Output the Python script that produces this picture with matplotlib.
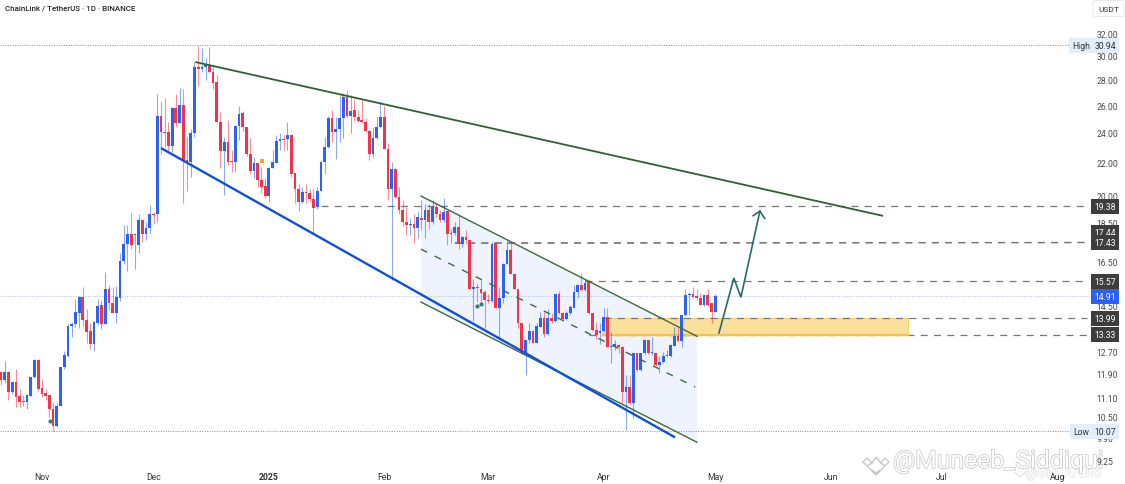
import matplotlib
matplotlib.use("Agg")
import matplotlib.pyplot as plt
import pandas as pd
from matplotlib.patches import Rectangle, Polygon
from matplotlib.ticker import NullLocator
import matplotlib.patheffects as pe

plt.rcParams['font.family'] = ['Roboto', 'DejaVu Sans']

start_date = "2024-10-21"
opens = [11.95,11.69,11.95,11.30,11.63,11.15,10.98,10.96,11.16,11.78,12.38,11.41,11.24,11.19,10.74,10.23,10.84,12.13,12.53,13.68,13.74,14.22,14.89,13.91,13.47,12.98,13.78,14.52,13.75,15.25,14.61,14.21,14.83,
 16.53,17.34,17.87,17.83,17.30,18.60,17.87,18.21,18.97,18.92,25.20,24.07,24.04,23.11,25.82,24.71,26.04,22.17,22.04,24.00,29.02,28.90,29.09,29.22,28.65,27.81,24.78,22.74,23.36,22.10,22.02,24.50,25.39,24.42,22.58,21.45,21.95,20.93,20.55,19.98,21.65,21.99,23.41,23.59,23.54,23.82,21.32,20.40,19.62,20.17,20.15,19.78,19.32,20.27,22.06,22.99,25.02,24.04,24.25,25.02,26.65,25.20,25.63,25.10,24.90,24.78,24.13,22.54,23.61,24.38,25.12,22.90,20.38,21.57,19.92,
 19.16,18.51,18.35,18.42,18.18,18.75,18.60,19.16,18.51,19.34,18.93,18.60,19.11,17.85,17.95,18.24,17.38,17.72,17.55,15.24,15.30,15.24,15.09,14.77,14.71,17.41,14.42,14.82,16.40,17.05,15.93,15.24,13.81,12.63,13.13,13.49,13.03,13.65,14.00,13.36,14.00,13.89,15.00,14.19,13.95,14.22,14.43,15.09,15.40,15.18,15.60,14.22,13.52,13.41,13.46,14.03,12.88,12.92,12.94,12.85,11.29,11.46,10.92,12.63,12.03,12.63,13.13,12.63,12.63,12.20,12.32,12.53,12.53,12.92,13.30,13.08,14.10,14.98,15.03,14.91,14.85,14.53,14.98,14.60,14.26]
highs = [12.01,12.34,11.98,11.63,12.07,11.37,11.18,11.21,11.80,12.41,12.44,11.72,11.37,11.19,10.92,10.94,12.15,12.70,13.75,13.85,14.80,14.92,15.33,14.35,13.78,13.87,14.78,14.75,15.98,15.41,15.30,15.37,16.90,
 18.34,18.34,19.02,17.85,18.97,18.64,18.52,19.43,19.06,26.86,26.35,26.52,24.73,25.88,26.83,27.31,27.26,23.72,24.25,29.45,30.89,30.68,29.80,30.77,29.22,28.38,25.51,23.68,24.90,22.82,24.50,25.97,25.56,24.42,23.66,22.34,21.95,21.73,21.01,21.73,22.82,23.84,24.01,23.84,24.73,23.82,21.32,20.65,20.50,20.65,20.35,20.37,20.48,22.17,23.72,25.21,25.63,25.10,26.73,26.91,27.18,26.78,26.44,25.63,26.39,25.02,24.18,24.42,25.10,26.32,25.97,23.27,22.06,21.63,20.50,
 19.73,19.34,18.70,18.97,19.09,19.73,19.53,19.53,19.73,19.57,19.16,19.83,19.15,18.15,18.51,18.97,17.76,18.07,17.55,15.70,15.48,15.70,15.18,15.03,17.47,17.47,15.33,16.43,17.58,17.47,15.93,15.24,13.81,13.13,13.81,13.49,13.81,14.23,14.23,14.35,14.20,15.03,15.15,14.26,14.30,14.53,15.40,15.45,15.96,15.70,15.67,14.22,13.85,13.78,14.39,14.39,13.45,13.13,12.98,12.90,11.85,11.85,12.63,12.65,12.65,13.15,13.13,13.26,12.63,12.53,12.69,12.75,12.98,13.62,13.65,14.10,15.25,15.10,15.30,15.25,15.06,15.03,15.21,14.60,15.03]
lows = [11.52,11.60,11.03,11.22,10.80,10.81,10.83,10.73,11.15,11.74,11.33,11.13,11.03,10.50,10.07,10.20,10.84,12.07,12.50,13.26,13.62,13.58,13.67,13.03,12.78,12.73,13.73,13.55,13.75,14.32,14.22,13.80,14.72,
 16.40,16.05,17.13,16.16,16.93,17.47,17.56,17.90,18.42,18.52,22.54,23.04,22.70,22.70,24.42,24.66,19.54,20.27,21.12,23.72,27.47,28.65,27.97,28.58,27.26,24.78,21.67,20.02,21.84,21.43,21.43,23.48,24.11,22.40,21.28,21.02,20.52,20.12,19.82,19.63,21.63,21.95,22.80,22.80,22.80,21.12,19.58,19.12,19.54,19.54,19.68,17.90,19.24,20.25,21.26,22.97,23.38,22.21,23.38,23.66,25.07,23.96,24.85,24.78,24.66,24.07,22.17,22.28,23.57,24.30,22.90,19.75,15.63,19.82,18.97,
 18.27,17.81,17.81,17.41,17.69,18.07,17.64,18.15,18.42,18.79,18.51,18.51,17.30,17.41,17.81,17.09,17.22,17.38,15.24,13.87,14.67,14.53,13.58,14.61,14.67,14.39,13.20,14.61,16.37,15.90,15.21,13.60,12.60,11.85,13.03,13.00,13.00,13.62,13.23,13.32,13.81,13.85,14.16,13.89,13.92,14.12,14.39,14.85,15.15,15.15,14.16,13.47,13.16,12.98,13.44,12.85,12.29,12.75,12.63,10.92,10.10,10.90,10.46,12.00,12.00,12.60,12.60,12.56,12.18,11.91,12.28,12.50,12.50,12.90,13.06,12.88,14.07,14.10,14.85,14.75,14.53,14.50,14.50,13.81,14.26]
closes = [11.69,11.95,11.30,11.63,11.11,10.97,10.96,11.18,11.80,12.38,11.40,11.22,11.15,10.74,10.23,10.84,12.15,12.55,13.68,13.75,14.23,14.89,13.91,13.44,12.98,13.84,14.49,13.75,15.25,14.61,14.22,14.89,16.53,
 17.36,17.87,17.30,17.85,18.60,17.87,18.21,18.95,18.87,25.20,24.04,24.00,23.11,25.82,24.71,26.04,22.17,22.04,24.01,29.09,28.90,29.09,29.22,28.65,27.76,24.78,22.74,23.36,22.06,22.02,24.50,25.34,24.42,22.58,21.45,21.95,20.93,20.52,19.98,21.65,22.02,23.41,23.57,23.52,23.82,21.28,20.38,19.62,20.17,20.13,19.78,19.28,20.27,22.06,22.99,25.07,24.04,24.25,25.02,26.65,25.20,25.56,25.10,24.85,24.78,24.13,22.54,23.66,24.38,25.10,22.90,20.38,21.57,19.92,19.16,
 18.51,18.33,18.42,18.18,18.79,18.60,19.16,18.51,19.34,18.93,18.60,19.06,17.85,17.95,18.24,17.38,17.72,17.55,15.24,15.30,15.26,15.06,14.75,14.71,17.38,14.42,14.82,16.40,17.05,15.93,15.24,13.81,12.63,13.13,13.49,13.03,13.67,14.00,13.36,14.00,13.89,15.00,14.19,13.95,14.22,14.46,15.09,15.40,15.18,15.51,14.19,13.52,13.34,13.46,14.03,12.88,12.92,12.94,12.85,11.29,11.46,10.92,12.63,12.03,12.63,13.13,12.63,12.66,12.20,12.32,12.53,12.56,12.94,13.30,13.08,14.10,14.98,15.03,14.88,14.82,14.53,14.98,14.53,14.26,14.91]

price_ticks = [32, 30, 28, 26, 24, 22, 20, 18.5, 16.5, 14.5, 13.5, 12.7, 11.9, 11.1, 10.5, 9.9, 9.25]
month_ticks = ["2024-11-01","2024-12-01","2025-01-01","2025-02-01","2025-03-01","2025-04-01","2025-05-01","2025-06-01","2025-07-01","2025-08-01"]
month_labels = ["Nov","Dec","2025","Feb","Mar","Apr","May","Jun","Jul","Aug"]

high_price, low_price, last_price = 30.94, 10.07, 14.91
level_badges = [(19.38, 19.38), (17.44, 17.95), (17.43, 17.43), (15.57, 15.57), (13.99, 13.99), (13.33, 13.33)]
level_lines = [(86, 19.38, 19.38), (122, 17.41, 17.43), (122, 17.40, 17.44), (157, 15.57, 15.57), (162, 13.99, 13.99), (158, 13.33, 13.33)]

upper_trend = ([52.2, 237.1], [29.48, 18.84])
lower_trend = ([43.0, 181.2], [22.95, 9.89])
channel_top = ([112.9, 187.1], [19.96, 13.27])
channel_mid = ([112.9, 186.6], [17.10, 11.45])
channel_bot = ([112.9, 187.1], [14.66, 9.75])
zone_x, zone_low, zone_high = (161.8, 243.8), 13.33, 13.99
path_x = [193.0, 197.0, 198.9, 204.0]
path_y = [13.40, 15.72, 14.87, 19.10]
head_x = [202.2, 204.0, 205.3]
head_y = [18.85, 19.10, 18.70]

BLUE, RED = "#2b63f2", "#f0344a"
W, H = 1125, 485
fig = plt.figure(figsize=(W/100, H/100), dpi=100, facecolor="white")
ax = fig.add_axes([0, 0, 1, 1])
ax.set_yscale("log")
ax.set_ylim(8.635, 35.41)
ax.set_xlim(-0.27, 302.15)
ax.set_axisbelow(False)
for s in ax.spines.values():
    s.set_visible(False)

def pct(px, py):
    return px/W, 1-py/H

t0 = pd.Timestamp(start_date)
idx = list(range(len(opens)))
colors = [BLUE if c >= o else RED for o, c in zip(opens, closes)]

# channel fill
ax.add_patch(Polygon([(channel_top[0][0], channel_top[1][0]), (channel_top[0][1], channel_top[1][1]),
                      (channel_bot[0][1], channel_bot[1][1]), (channel_bot[0][0], channel_bot[1][0])],
                     closed=True, fc="#eef3fd", ec="none", zorder=1))

# zone
ax.add_patch(Rectangle((zone_x[0], zone_low), zone_x[1]-zone_x[0], zone_high-zone_low,
                       fc="#fbe09c", ec="#f6d26a", lw=0.8, zorder=1.4))

# reference lines
ax.axhline(high_price, color="#8a8a8a", lw=0.7, ls=(0, (1, 1.5)), xmax=1072/W, zorder=1.2)
ax.axhline(low_price, color="#8a8a8a", lw=0.7, ls=(0, (1, 1.5)), xmax=1072/W, zorder=1.2)
ax.axhline(last_price, color="#a9c0f5", lw=0.7, ls=(0, (1, 1.5)), xmax=1090/W, zorder=1.2)
for xs, y0, y1 in level_lines:
    ax.plot([xs, 292], [y0, y1], color="#777777", lw=0.9, ls=(0, (5.6, 5.0)), zorder=1.5)
ax.plot(zone_x, [zone_low, zone_low], color="#f6c445", lw=1.6, zorder=1.7)

# candles
ax.vlines(idx, lows, highs, colors=colors, lw=0.8, alpha=0.55, zorder=3)
bottoms = [min(o, c) for o, c in zip(opens, closes)]
heights = [max(abs(c-o), 0.04) for o, c in zip(opens, closes)]
ax.bar(idx, heights, bottom=bottoms, width=0.74, color=colors, lw=0, zorder=3.2)

# trend lines
ax.plot(*upper_trend, color="#2f6134", lw=1.3, zorder=4, solid_capstyle="butt")
ax.plot(*lower_trend, color="#1050d8", lw=1.7, zorder=4, solid_capstyle="butt")
ax.plot(*channel_top, color="#3f6b3d", lw=1.0, zorder=4)
ax.plot(*channel_bot, color="#3f6b3d", lw=1.0, zorder=3.9)
ax.plot(*channel_mid, color="#3f6b3d", lw=1.0, ls=(0, (5, 6)), zorder=4)
ax.plot(path_x, path_y, color="#2a6a68", lw=1.2, zorder=5, solid_joinstyle="miter")
ax.plot(head_x, head_y, color="#2a6a68", lw=1.2, zorder=5)

# small markers
ax.scatter([70.2], [22.1], s=11, marker="s", color="#f4a51c", lw=0, zorder=5)
ax.scatter([13.2, 128.0, 129.0], [10.37, 14.49, 14.58], s=9, color="#2f8078", lw=0, zorder=5)

# axes
ax.yaxis.tick_right()
ax.set_yticks(price_ticks)
ax.set_yticklabels([f"{p:.2f}" for p in price_ticks])
ax.yaxis.set_minor_locator(NullLocator())
ax.tick_params(axis="y", length=0, pad=-20.5, labelsize=6.2, labelcolor="#4a4a4a")
month_pos = [(pd.Timestamp(d)-t0).days for d in month_ticks]
ax.set_xticks(month_pos)
ax.set_xticklabels(month_labels)
ax.tick_params(axis="x", length=0, pad=-8.5, labelsize=6.2, labelcolor="#333333")
ax.get_xticklabels()[2].set_fontweight("bold")

ytrans = ax.get_yaxis_transform()
def badge(y, txt, fc, tc, px=1105):
    ax.text(px/W, y, txt, transform=ytrans, ha="center", va="center", fontsize=6.2, color=tc, zorder=10,
            bbox=dict(boxstyle="square,pad=0.35", fc=fc, ec="none"))
for lv, pos in level_badges:
    badge(pos, f"{lv:.2f}", "#3d3d3d", "white")
badge(last_price, f"{last_price:.2f}", "#2a62f5", "white")
badge(high_price, f"{high_price:.2f}", "#e3eefb", "#333333")
badge(low_price, f"{low_price:.2f}", "#e3eefb", "#333333")
badge(high_price, "High", "#e3eefb", "#333333", px=1081)
badge(low_price, "Low", "#e3eefb", "#333333", px=1081)

# header
ax.text(*pct(5, 8.5), "ChainLink / TetherUS · 1D · BINANCE", transform=ax.transAxes, ha="left", va="center",
        fontsize=5.7, color="#222222", fontweight="medium")
ax.text(*pct(1108.5, 9.5), "USDT", transform=ax.transAxes, ha="center", va="center", fontsize=6.0, color="#333333",
        zorder=10, bbox=dict(boxstyle="round,pad=0.6,rounding_size=0.3", fc="white", ec="#e4e4e4", lw=0.6))

# watermark
ax.text(*pct(893, 462), "@Muneeb_Siddiqui", transform=ax.transAxes, ha="left", va="center", fontsize=17.8,
        color="white", zorder=2.2, path_effects=[pe.withStroke(linewidth=1.0, foreground="#c4c4c4")])
ax.text(*pct(1025, 474), "@Gla_Ardho", transform=ax.transAxes, ha="left", va="center", fontsize=10,
        color="white", zorder=2.1, path_effects=[pe.withStroke(linewidth=0.7, foreground="#dddddd")])

def logo(points, col="#c8c8c8", lw=1.0, z=2.2):
    pts = [pct(a, b) for a, b in points]
    ax.plot([p[0] for p in pts], [p[1] for p in pts], transform=ax.transAxes, color=col, lw=lw, zorder=z)
logo([(863, 463), (867, 459), (872, 464), (876, 458), (881, 464), (885, 459), (889, 463), (885, 467), (881, 464)])
logo([(863, 463), (867, 467), (872, 464)])
logo([(868, 468), (876, 476), (884, 468)])
logo([(872, 471), (876, 474), (880, 471)])
logo([(1015, 473), (1020, 478), (1025, 473)], col="#dcdcdc", lw=0.8, z=2.1)

ax.set_xlim(-0.27, 302.15)
fig.savefig("out.png", dpi=100)
